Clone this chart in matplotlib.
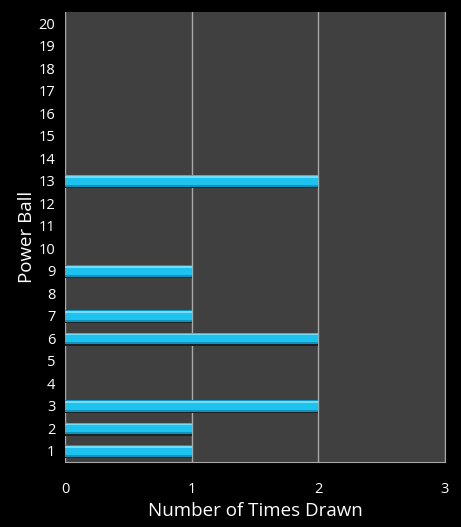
import matplotlib
matplotlib.use("Agg")
import matplotlib.pyplot as plt
import numpy as np

balls = list(range(1, 21))
counts = [1, 1, 2, 0, 0, 2, 1, 0, 1, 0, 0, 0, 2, 0, 0, 0, 0, 0, 0, 0]
xticks = [0, 1, 2, 3]

plt.rcParams['font.family'] = ['Open Sans', 'DejaVu Sans']

fig = plt.figure(figsize=(4.61, 5.27), dpi=100, facecolor='black')
ax = fig.add_axes([0.141, 0.123, 0.824, 0.854])
ax.set_facecolor('#404040')

y = np.array(balls)
c = np.array(counts)
# shadow, dark edge, body and a thin highlight for the glossy look
ax.barh(y - 0.07, c, height=0.5, color='#202020', zorder=2)
ax.barh(y, c, height=0.5, color='#0f93c0', zorder=3)
ax.barh(y + 0.03, c, height=0.42, color='#1ec2ee', zorder=4)
ax.barh(y + 0.17, c, height=0.08, color='#74dcf7', zorder=5)

ax.set_xlim(0, 3)
ax.set_ylim(0.5, 20.5)
ax.set_xticks(xticks)
ax.set_yticks(balls)
ax.grid(axis='x', color='#a8a8a8', linewidth=1, zorder=1)
ax.tick_params(colors='white', labelsize=10.5, length=0, pad=7)
ax.tick_params(axis='x', pad=14)
for s in ['top', 'left']:
    ax.spines[s].set_visible(False)
for s in ['bottom', 'right']:
    ax.spines[s].set_color('#a8a8a8')

ax.set_xlabel('Number of Times Drawn', color='white', fontsize=13.5, labelpad=4)
ax.set_ylabel('Power Ball', color='white', fontsize=13.5, labelpad=2)

fig.savefig('out.png', dpi=100, facecolor='black')
